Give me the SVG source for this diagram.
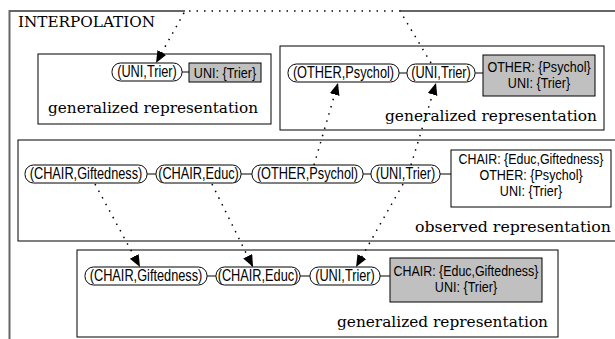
<svg xmlns="http://www.w3.org/2000/svg" width="615" height="339" viewBox="0 0 615 339">
<style>
.cl{fill:#fff;stroke:#000;stroke-width:1}
.nd{fill:#fff;stroke:#000;stroke-width:1}
.gb{fill:#c0c0c0;stroke:#000;stroke-width:1}
.wb{fill:#fff;stroke:#000;stroke-width:1}
.t{font-family:"Liberation Sans",Arial,sans-serif;font-size:17px;fill:#000;text-anchor:middle}
.b{font-family:"Liberation Sans",Arial,sans-serif;font-size:13.8px;fill:#000;text-anchor:middle}
.s{font-family:"DejaVu Serif","Liberation Serif",serif;font-size:15px;fill:#000}
.ln{stroke:#000;stroke-width:1;fill:none}
.ed{stroke:#000;stroke-width:1.5;fill:none;stroke-dasharray:1.5 6;marker-end:url(#ah)}
</style>
<defs>
<marker id="ah" markerUnits="userSpaceOnUse" markerWidth="13" markerHeight="11" refX="12" refY="5" orient="auto">
<path d="M0,0 L12,5 L0,10 z" fill="#000"/>
</marker>
</defs>
<rect width="615" height="339" fill="#fff"/>
<g id="frame">
<path d="M9.5,339 V11 H185 M400,11 H615" stroke="#666" stroke-width="2" fill="none"/>
<text class="s" x="18" y="27" textLength="137" lengthAdjust="spacingAndGlyphs">INTERPOLATION</text>
</g>
<g id="cluster_top_left">
<rect class="cl" x="38" y="54" width="233" height="70"/>
<text class="s" x="48" y="113" textLength="210" lengthAdjust="spacingAndGlyphs">generalized representation</text>
</g>
<g id="cluster_top_right">
<rect class="cl" x="280" y="46" width="324" height="84"/>
<text class="s" x="385" y="121" textLength="212" lengthAdjust="spacingAndGlyphs">generalized representation</text>
</g>
<g id="cluster_observed">
<rect class="cl" x="18" y="140" width="600" height="101"/>
<text class="s" x="415" y="232" textLength="196" lengthAdjust="spacingAndGlyphs">observed representation</text>
</g>
<g id="cluster_bottom">
<rect class="cl" x="77" y="250" width="481" height="87"/>
<text class="s" x="337" y="327" textLength="211" lengthAdjust="spacingAndGlyphs">generalized representation</text>
</g>
<g id="chain_lines">
<path class="ln" d="M182,72 H189 M399,73 H407 M475,73 H483 M147,174 H156 M241,174 H252 M363,174 H371 M440,174 H451 M207,276 H216 M300,276 H310 M380,276 H390"/>
</g>
<g id="tl_uni"><rect class="nd" x="112" y="63" width="70" height="18" rx="8.5"/><text class="t" transform="translate(147,77) scale(0.75,1)">(UNI,Trier)</text></g>
<g id="tl_box"><rect class="gb" x="189" y="63" width="72" height="19"/><text class="b" transform="translate(225,77.5) scale(0.91,1)">UNI: {Trier}</text></g>
<g id="tr_other"><rect class="nd" x="288" y="64" width="111" height="18" rx="8.5"/><text class="t" transform="translate(343.5,78) scale(0.75,1)">(OTHER,Psychol)</text></g>
<g id="tr_uni"><rect class="nd" x="407" y="64" width="68" height="18" rx="8.5"/><text class="t" transform="translate(441,78) scale(0.75,1)">(UNI,Trier)</text></g>
<g id="tr_box"><rect class="gb" x="483" y="55" width="112" height="41"/><text class="b" transform="translate(539,72) scale(0.91,1)">OTHER: {Psychol}</text><text class="b" transform="translate(539,88) scale(0.91,1)">UNI: {Trier}</text></g>
<g id="ob_gift"><rect class="nd" x="25" y="165" width="122" height="18" rx="8.5"/><text class="t" transform="translate(86,179) scale(0.75,1)">(CHAIR,Giftedness)</text></g>
<g id="ob_educ"><rect class="nd" x="156" y="165" width="85" height="18" rx="8.5"/><text class="t" transform="translate(198.5,179) scale(0.75,1)">(CHAIR,Educ)</text></g>
<g id="ob_other"><rect class="nd" x="252" y="165" width="111" height="18" rx="8.5"/><text class="t" transform="translate(307.5,179) scale(0.75,1)">(OTHER,Psychol)</text></g>
<g id="ob_uni"><rect class="nd" x="371" y="165" width="69" height="18" rx="8.5"/><text class="t" transform="translate(405.5,179) scale(0.75,1)">(UNI,Trier)</text></g>
<g id="ob_box"><rect class="wb" x="451" y="150" width="160" height="57"/><text class="b" transform="translate(531,164) scale(0.9,1)">CHAIR: {Educ,Giftedness}</text><text class="b" transform="translate(531,180) scale(0.91,1)">OTHER: {Psychol}</text><text class="b" transform="translate(531,196) scale(0.91,1)">UNI: {Trier}</text></g>
<g id="bt_gift"><rect class="nd" x="85" y="267" width="122" height="18" rx="8.5"/><text class="t" transform="translate(146,281) scale(0.75,1)">(CHAIR,Giftedness)</text></g>
<g id="bt_educ"><rect class="nd" x="216" y="267" width="84" height="18" rx="8.5"/><text class="t" transform="translate(258,281) scale(0.75,1)">(CHAIR,Educ)</text></g>
<g id="bt_uni"><rect class="nd" x="310" y="267" width="70" height="18" rx="8.5"/><text class="t" transform="translate(345,281) scale(0.75,1)">(UNI,Trier)</text></g>
<g id="bt_box"><rect class="gb" x="390" y="258" width="152" height="44"/><text class="b" transform="translate(466,276) scale(0.9,1)">CHAIR: {Educ,Giftedness}</text><text class="b" transform="translate(466,292) scale(0.91,1)">UNI: {Trier}</text></g>
<g id="connectors">
<path class="ed" d="M431,63 L400,11 L185,11 L156,63"/>
<path class="ed" d="M314,165 L338,83"/>
<path class="ed" d="M411,165 L436,83"/>
<path class="ed" d="M95,184 L140,267"/>
<path class="ed" d="M212,184 L253,267"/>
<path class="ed" d="M403,184 L356,267"/>
</g>
</svg>
